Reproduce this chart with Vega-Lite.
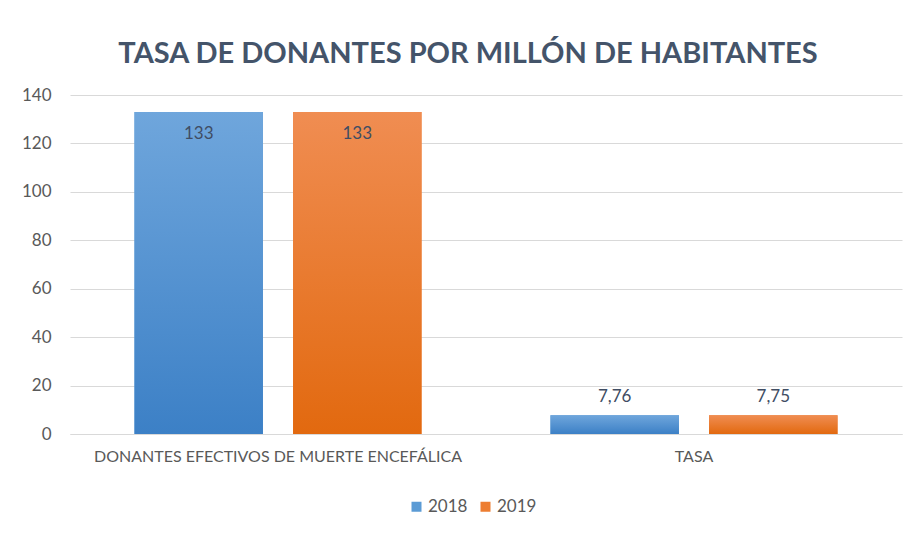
{
  "$schema": "https://vega.github.io/schema/vega-lite/v6.json",
  "width": 832,
  "height": 339,
  "autosize": {"type": "none"},
  "padding": {"left": 70, "top": 95, "right": 12, "bottom": 102},
  "background": "white",
  "config": {
    "view": {"stroke": null},
    "font": "Lato",
    "locale": {"number": {"decimal": ",", "thousands": ".", "grouping": [3], "currency": ["", " €"]}}
  },
  "title": {
    "text": "TASA DE DONANTES POR MILLÓN DE HABITANTES",
    "font": "Lato",
    "fontSize": 29,
    "fontWeight": "bold",
    "color": "#44546a",
    "anchor": "middle",
    "baseline": "alphabetic",
    "offset": 33,
    "dy": 39,
    "dx": -18
  },
  "data": {
    "values": [
      {"categoria": "DONANTES EFECTIVOS DE MUERTE ENCEFÁLICA", "año": "2018", "valor": 133},
      {"categoria": "DONANTES EFECTIVOS DE MUERTE ENCEFÁLICA", "año": "2019", "valor": 133},
      {"categoria": "TASA", "año": "2018", "valor": 7.76},
      {"categoria": "TASA", "año": "2019", "valor": 7.75}
    ]
  },
  "encoding": {
    "x": {
      "field": "categoria",
      "type": "nominal",
      "sort": null,
      "title": null,
      "scale": {"paddingInner": 0.31, "paddingOuter": 0.155},
      "axis": {
        "labelAngle": 0,
        "labelFont": "Lato",
        "labelFontSize": 16,
        "labelColor": "#595959",
        "labelPadding": 14,
        "ticks": false,
        "domain": true,
        "domainColor": "#d9d9d9",
        "labelLimit": 0
      }
    },
    "xOffset": {"field": "año", "type": "nominal", "scale": {"paddingInner": 0.19, "paddingOuter": 0}},
    "y": {
      "field": "valor",
      "type": "quantitative",
      "title": null,
      "scale": {"domain": [0, 140]},
      "axis": {
        "values": [0, 20, 40, 60, 80, 100, 120, 140],
        "labelFont": "Lato",
        "labelFontSize": 17,
        "labelColor": "#595959",
        "labelPadding": 19,
        "ticks": false,
        "domain": false,
        "gridColor": "#d9d9d9",
        "gridWidth": 1
      }
    }
  },
  "layer": [
    {
      "mark": {"type": "bar"},
      "encoding": {
        "color": {
          "field": "año",
          "type": "nominal",
          "title": null,
          "scale": {"domain": ["2018", "2019"], "range": ["#5b9bd5", "#ed7d31"]},
          "legend": {
            "orient": "none",
            "direction": "horizontal",
            "legendX": 338,
            "legendY": 403,
            "symbolType": "square",
            "symbolSize": 100,
            "symbolStrokeWidth": 0,
            "labelFont": "Lato",
            "labelFontSize": 17,
            "labelColor": "#595959",
            "columnPadding": 9,
            "labelOffset": 3
          }
        }
      }
    },
    {
      "mark": {"type": "bar"},
      "encoding": {
        "color": {
          "condition": {
            "test": "datum['año'] == '2018'",
            "value": {"gradient": "linear", "x1": 0, "y1": 0, "x2": 0, "y2": 1, "stops": [{"offset": 0, "color": "#6fa6dc"}, {"offset": 1, "color": "#3c80c6"}]}
          },
          "value": {"gradient": "linear", "x1": 0, "y1": 0, "x2": 0, "y2": 1, "stops": [{"offset": 0, "color": "#f08d52"}, {"offset": 1, "color": "#e2690f"}]}
        }
      }
    },
    {
      "transform": [{"filter": "datum.valor > 50"}],
      "mark": {"type": "text", "baseline": "top", "dy": 14, "font": "Lato", "fontSize": 17, "color": "#404d63"},
      "encoding": {"text": {"field": "valor", "type": "quantitative", "format": "~g"}}
    },
    {
      "transform": [{"filter": "datum.valor <= 50"}],
      "mark": {"type": "text", "baseline": "bottom", "dy": -9, "font": "Lato", "fontSize": 17, "color": "#404d63"},
      "encoding": {"text": {"field": "valor", "type": "quantitative", "format": "~g"}}
    }
  ]
}
